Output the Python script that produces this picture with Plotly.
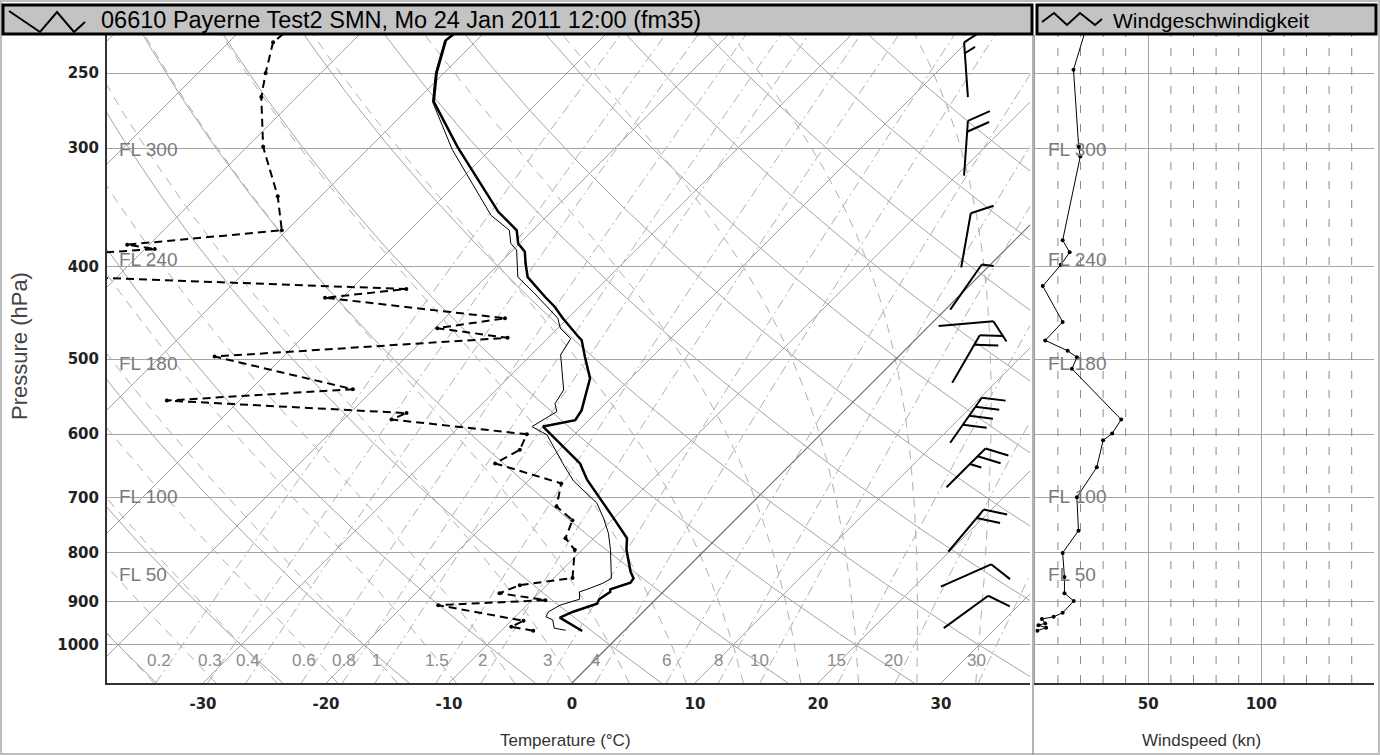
import numpy as np
import plotly.graph_objects as go

# ---------------- data ----------------
# temperature profile (thick line)
temp_p = [966.6, 936, 922.5, 905, 895, 879, 874, 860, 851, 837, 794, 772, 733, 670, 644,
          589, 580, 566, 548, 524, 497, 477.5, 474, 453, 440.5, 430, 410, 396.5, 385.5,
          378, 366, 350, 299, 268, 250, 231, 226]
temp_t = [-3.4, -6.3, -5.7, -4.4, -4.6, -4.3, -4.5, -3.4, -3.5, -4.3, -6.4, -7.3, -10.2, -15.3, -17.2,
          -23.2, -21.1, -21.4, -22.2, -23.3, -25.5, -27.1, -27.6, -30.4, -32.0, -33.6, -36.6, -37.9, -38.9,
          -40.1, -41.3, -44.3, -52.9, -58.5, -60.6, -62.5, -62.3]
# wet-bulb profile (thin line)
wetb_p = [965, 960, 941, 934, 922.5, 908, 895, 879, 874, 861, 851, 794, 763, 736, 709, 672, 644,
          601, 589, 568, 557, 539, 495, 476, 464, 453, 426, 410, 384, 378, 366, 353, 301, 268, 250, 231, 226]
wetb_t = [-4.8, -5.9, -6.7, -7.5, -7.7, -7.3, -6.2, -6.8, -6.4, -5.6, -5.3, -7.7, -9.2, -10.8, -12.6, -16.3, -18.6,
          -22.2, -24.1, -23.3, -24.1, -24.5, -27.6, -28.1, -29.8, -30.8, -34.8, -37.4, -39.7, -40.7, -41.9, -44.6,
          -53.1, -58.6, -60.7, -62.6, -62.4]
# dew point profile (dashed line)
dewp_p = [966, 957, 943, 908, 897, 882, 865, 850, 794, 772, 739, 715, 676, 644, 623, 600, 579, 570,
          553, 538, 497, 475, 464, 453, 431, 422, 410, 389, 383, 379, 366, 337, 299, 265, 250, 232, 226]
dewp_t = [-7.4, -9.5, -9.0, -17.2, -8.9, -13.2, -12.2, -8.5, -10.6, -12.3, -13.2, -15.6, -17.1, -24.1, -23.2,
          -23.9, -36.1, -35.4, -55.9, -41.7, -55.6, -33.3, -39.8, -35.1, -51.4, -45.5, -73.0, -76.4, -69.2,
          -71.8, -60.4, -63.5, -68.7, -72.9, -74.5, -76.4, -76.2]
# wind speed profile (right panel)
wind_p = [225, 248, 299, 306, 375, 386, 398, 419, 457, 478, 490, 498, 512, 579, 599, 609, 650, 699,
          758, 800, 848, 882, 899, 925, 934, 939, 949, 953, 959, 966]
wind_kn = [22.3, 16.9, 19.2, 19.9, 12.1, 15.2, 11.3, 3.3, 12.1, 4.4, 14.3, 18.4, 16.2, 38.0, 34.0, 30.0,
           27.2, 18.4, 19.1, 12.1, 12.9, 12.9, 17.0, 12.1, 8.1, 2.9, 4.4, 1.4, 4.8, 0.9]
# wind barbs
barb_p = [248, 300, 375, 420, 459, 500, 580, 651, 758, 845, 923]
barb_dir = [356, 4, 10, 35, 85, 30, 35, 45, 40, 66, 54]
barb_kn = [15, 20, 10, 5, 10, 20, 40, 25, 20, 10, 10]

p_ticks = [250, 300, 400, 500, 600, 700, 800, 900, 1000]
t_ticks = [-30, -20, -10, 0, 10, 20, 30]
ws_ticks = [50, 100, 150]
ws_ticklabels = ['50', '100', '']
mixr_vals = [0.2, 0.3, 0.4, 0.6, 0.8, 1, 1.5, 2, 3, 4, 6, 8, 10, 15, 20, 30]
mixr_labels = ['0.2', '0.3', '0.4', '0.6', '0.8', '1', '1.5', '2', '3', '4', '6', '8', '10', '15', '20', '30']
fl_names = ['FL 50', 'FL 100', 'FL 180', 'FL 240', 'FL 300']
fl_p = [843, 697, 506, 393, 301]
title_left = "06610 Payerne Test2 SMN, Mo 24 Jan 2011 12:00 (fm35)"
title_right = "Windgeschwindigkeit"

# ---------------- geometry ----------------
W, H = 1380, 755
PX_L, PX_R = 107, 1030
PY_T, PY_B = 35, 683
P_TOP, P_BOT = 228.0, 1096.5
X0 = 572.0           # pixel of 0 degC at the bottom
SX = 12.3            # px per degC
SY = (PY_B - PY_T) / np.log(P_BOT / P_TOP)   # px per ln(p)
K = SY / SX
X_MIN = (PX_L - X0) / SX
X_MAX = (PX_R - X0) / SX
WS_L, WS_R = 1035.3, 1374.3


def skew(t, p):
    return np.asarray(t, dtype=float) + K * np.log(P_BOT / np.asarray(p, dtype=float))


def px(x):
    return x / W


def py(y):
    return 1 - y / H


fig = go.Figure()


def add_lines(xs_list, ps_list, color, width, dash='solid', xa='x', ya='y'):
    X, Y = [], []
    for xs, ps in zip(xs_list, ps_list):
        X += list(np.asarray(xs, dtype=float)) + [None]
        Y += list(np.asarray(ps, dtype=float)) + [None]
    fig.add_trace(go.Scatter(x=X, y=Y, mode='lines', xaxis=xa, yaxis=ya,
                             line=dict(color=color, width=width, dash=dash),
                             hoverinfo='skip', showlegend=False))


GRID = '#a4a4a4'
pp = np.geomspace(P_BOT, P_TOP, 80)

# isotherms
iso_x, iso_p = [], []
for t in range(-90, 40, 10):
    if t == 0:
        continue
    iso_x.append(skew([t, t], [P_BOT, P_TOP]))
    iso_p.append([P_BOT, P_TOP])
add_lines(iso_x, iso_p, GRID, 1)

# dry adiabats
dry_x, dry_p = [], []
for th in range(-40, 110, 10):
    T = (th + 273.15) * (pp / 1000.0) ** 0.2857 - 273.15
    dry_x.append(skew(T, pp))
    dry_p.append(pp)
add_lines(dry_x, dry_p, GRID, 1)


# moist adiabats
def moist_line(tw):
    Rd, Cp, Lv, eps = 287.04, 1005.7, 2.501e6, 0.622

    def dTdp(T, p):
        Tc = T - 273.15
        e = 6.112 * np.exp(17.67 * Tc / (Tc + 243.5))
        rs = eps * e / (p - e)
        return (Rd * T + Lv * rs) / (p * (Cp + Lv * Lv * rs * eps / (Rd * T * T)))

    def integ(p0, p1, T0, n):
        ps = np.linspace(p0, p1, n)
        Ts = [T0]
        for i in range(n - 1):
            h = ps[i + 1] - ps[i]
            p = ps[i]
            T = Ts[-1]
            k1 = dTdp(T, p)
            k2 = dTdp(T + h * k1 / 2, p + h / 2)
            k3 = dTdp(T + h * k2 / 2, p + h / 2)
            k4 = dTdp(T + h * k3, p + h)
            Ts.append(T + h * (k1 + 2 * k2 + 2 * k3 + k4) / 6)
        return ps, np.array(Ts)

    pu, Tu = integ(1000.0, P_TOP, tw + 273.15, 160)
    pd, Td = integ(1000.0, P_BOT, tw + 273.15, 12)
    p = np.concatenate([pd[::-1], pu[1:]])
    T = np.concatenate([Td[::-1], Tu[1:]]) - 273.15
    return p, T


mo_x, mo_p = [], []
for tw in range(-40, 40, 5):
    p, T = moist_line(tw)
    mo_x.append(skew(T, p))
    mo_p.append(p)
add_lines(mo_x, mo_p, '#b0b0b0', 1, '9px,7px')


# mixing ratio lines
def td_from_w(w, p):
    e = w * p / (622.0 + w)
    a = np.log(e / 6.112)
    return 243.5 * a / (17.67 - a)


mr_x, mr_p = [], []
for w in mixr_vals:
    mr_x.append(skew(td_from_w(w, pp), pp))
    mr_p.append(pp)
add_lines(mr_x, mr_p, '#b0b0b0', 1, '10px,4px,2px,4px')

# 0 degC isotherm, darker
add_lines([skew([0, 0], [P_BOT, P_TOP])], [[P_BOT, P_TOP]], '#6e6e6e', 1.2)

# wind speed panel dashed verticals
dv_x, dv_p = [], []
for v in range(10, 150, 10):
    if v % 50 == 0:
        continue
    dv_x.append([v, v])
    dv_p.append([P_BOT, P_TOP])
add_lines(dv_x, dv_p, '#8c8c8c', 1, '8px,11px', 'x2', 'y2')

# ---------------- soundings ----------------
fig.add_trace(go.Scatter(x=skew(wetb_t, wetb_p), y=wetb_p, mode='lines',
                         line=dict(color='black', width=1), hoverinfo='skip', showlegend=False))
fig.add_trace(go.Scatter(x=skew(dewp_t, dewp_p), y=dewp_p, mode='lines+markers',
                         line=dict(color='black', width=2, dash='8px,5px'),
                         marker=dict(color='black', size=4), hoverinfo='skip', showlegend=False))
fig.add_trace(go.Scatter(x=skew(temp_t, temp_p), y=temp_p, mode='lines',
                         line=dict(color='black', width=2.5), hoverinfo='skip', showlegend=False))

# ---------------- wind barbs ----------------
XC = (966 - X0) / SX
STAFF = 55.0
bx, bp = [], []


def to_data(dx, dy, p0):
    return XC + dx / SX, p0 * np.exp(dy / SY)


for p0, d, s in zip(barb_p, barb_dir, barb_kn):
    r = np.deg2rad(d)
    ux, uy = np.sin(r), -np.cos(r)
    tipx, tipy = ux * STAFF / 2, uy * STAFF / 2
    segs = [((-tipx, -tipy), (tipx, tipy))]
    ang = np.arctan2(uy, ux) + np.deg2rad(62)
    fx, fy = np.cos(ang), np.sin(ang)
    nfull = int(s // 10)
    half = (s % 10) >= 5
    for i in range(nfull):
        sx0, sy0 = tipx - ux * 11 * i, tipy - uy * 11 * i
        segs.append(((sx0, sy0), (sx0 + fx * 24, sy0 + fy * 24)))
    if half:
        k = nfull
        sx0, sy0 = tipx - ux * 11 * k, tipy - uy * 11 * k
        segs.append(((sx0, sy0), (sx0 + fx * 12, sy0 + fy * 12)))
    for (a, b) in segs:
        x1, p1 = to_data(a[0], a[1], p0)
        x2, p2 = to_data(b[0], b[1], p0)
        bx += [x1, x2, None]
        bp += [p1, p2, None]
fig.add_trace(go.Scatter(x=bx, y=bp, mode='lines', line=dict(color='black', width=2),
                         hoverinfo='skip', showlegend=False))

# wind speed profile
fig.add_trace(go.Scatter(x=wind_kn, y=wind_p, mode='lines+markers', xaxis='x2', yaxis='y2',
                         line=dict(color='black', width=1), marker=dict(color='black', size=4),
                         hoverinfo='skip', showlegend=False))

# ---------------- annotations ----------------
ann = []
GRAYTXT = '#7a7a7a'
for name, p in zip(fl_names, fl_p):
    for xpix in (117, 1046):
        ann.append(dict(x=px(xpix), xref='paper', y=np.log10(p), yref='y', text=name, showarrow=False,
                        xanchor='left', yanchor='middle',
                        font=dict(family='Liberation Sans, Arial', size=19, color=GRAYTXT)))
P_LAB = P_TOP * np.exp((660 - PY_T) / SY)
for w, lab in zip(mixr_vals, mixr_labels):
    xl = float(skew(td_from_w(w, P_LAB), P_LAB)) - 13 / SX
    ann.append(dict(x=xl, xref='x', y=np.log10(P_LAB), yref='y', text=lab, showarrow=False,
                    xanchor='center', yanchor='middle',
                    font=dict(family='Liberation Sans, Arial', size=17, color='#8c8c8c')))

ann.append(dict(x=px(20), y=py(346), xref='paper', yref='paper', text='Pressure (hPa)', textangle=-90,
                xanchor='center', yanchor='middle',
                showarrow=False, font=dict(family='Liberation Sans, Arial', size=22, color='#444')))
ann.append(dict(x=px(565), y=py(740), xref='paper', yref='paper', text='Temperature (°C)',
                xanchor='center', yanchor='middle',
                showarrow=False, font=dict(family='Liberation Sans, Arial', size=17, color='#333')))
ann.append(dict(x=px(1201), y=py(740), xref='paper', yref='paper', text='Windspeed (kn)',
                xanchor='center', yanchor='middle',
                showarrow=False, font=dict(family='Liberation Sans, Arial', size=17, color='#333')))
ann.append(dict(x=px(99), y=py(20), xref='paper', yref='paper', text=title_left, xanchor='left',
                yanchor='middle', showarrow=False,
                font=dict(family='Liberation Sans, Arial', size=23.5, color='black')))
ann.append(dict(x=px(1111), y=py(20), xref='paper', yref='paper', text=title_right, xanchor='left',
                yanchor='middle', showarrow=False,
                font=dict(family='Liberation Sans, Arial', size=21, color='black')))

# ---------------- shapes (frame, title bars) ----------------
shapes = []
shapes.append(dict(type='rect', xref='paper', yref='paper', x0=0, x1=1, y0=0, y1=1,
                   line=dict(color='#bdbdbd', width=4), fillcolor='rgba(0,0,0,0)', layer='above'))
shapes.append(dict(type='line', xref='paper', yref='paper', x0=px(1033), x1=px(1033), y0=py(35), y1=py(755),
                   line=dict(color='#9a9a9a', width=1.5)))
for x0_, x1_ in ((3, 1032), (1037, 1376)):
    shapes.append(dict(type='rect', xref='paper', yref='paper', x0=px(x0_), x1=px(x1_), y0=py(34), y1=py(5),
                       line=dict(color='black', width=3), fillcolor='#c3c3c3', layer='above'))


def zig(pts):
    d = 'M ' + ' L '.join(f'{px(a):.5f},{py(b):.5f}' for a, b in pts)
    return dict(type='path', xref='paper', yref='paper', path=d, line=dict(color='black', width=2),
                layer='above')


shapes.append(zig([(9, 11), (40, 32), (57, 12), (74, 32), (85, 22)]))
shapes.append(zig([(1042, 22), (1054, 13), (1067, 25), (1080, 13), (1095, 25), (1102, 19)]))

tickfont = dict(family='DejaVu Sans', size=15, color='#222', weight='bold')
fig.update_layout(
    width=W, height=H, margin=dict(l=0, r=0, t=0, b=0),
    paper_bgcolor='white', plot_bgcolor='white', showlegend=False,
    annotations=ann, shapes=shapes,
    xaxis=dict(domain=[px(PX_L), px(PX_R)], range=[X_MIN, X_MAX], showgrid=False, zeroline=False,
               tickvals=t_ticks, ticktext=[str(t) for t in t_ticks], tickfont=tickfont, ticks='',
               showline=True, linecolor='#333', linewidth=2, ticklabelstandoff=6, anchor='y'),
    yaxis=dict(domain=[py(PY_B), py(PY_T)], type='log', range=[np.log10(P_BOT), np.log10(P_TOP)],
               tickvals=p_ticks, ticktext=[str(p) for p in p_ticks], tickfont=tickfont, ticks='',
               showgrid=True, gridcolor=GRID, gridwidth=1, zeroline=False, showline=True,
               linecolor='#333', linewidth=2, ticklabelstandoff=3, anchor='x'),
    xaxis2=dict(domain=[px(WS_L), px(WS_R)], range=[0, 150], tickvals=ws_ticks, ticktext=ws_ticklabels,
                tickfont=tickfont, ticks='', showgrid=True, gridcolor=GRID, zeroline=False, showline=True,
                linecolor='#333', linewidth=2, ticklabelstandoff=6, anchor='y2'),
    yaxis2=dict(domain=[py(PY_B), py(PY_T)], type='log', range=[np.log10(P_BOT), np.log10(P_TOP)],
                tickvals=p_ticks, showticklabels=False, showgrid=True, gridcolor=GRID, zeroline=False,
                showline=True, linecolor='#9a9a9a', linewidth=1, anchor='x2'),
)

fig.write_html("out.html", config={'displayModeBar': False},
               post_script="document.body.style.margin='0px';document.body.style.overflow='hidden';")
